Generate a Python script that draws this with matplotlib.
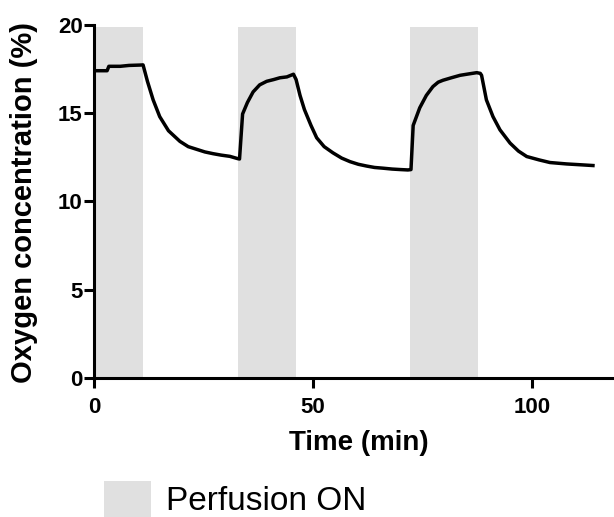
import matplotlib
matplotlib.use("Agg")
import matplotlib.pyplot as plt
from matplotlib.patches import Patch

# tempo (min) e concentracao de O2 (%)
tempo = [0, 3.0, 3.4, 6, 8, 10.5, 11.2, 12.2, 13.5, 15.0, 17, 19.6, 21.5, 23.4,
         25.3, 27.2, 29, 31, 32.8, 33.2, 33.9, 35, 36.3, 37.8, 39.4, 41, 42.4,
         44, 45.5, 46.1, 47.0, 48, 49.5, 50.8, 52.5, 54.5, 56.5, 58.4, 60.3,
         62.2, 64, 65.9, 68, 70, 71.6, 72.3, 72.8, 74.3, 75.8, 77.3, 78.5,
         79.6, 81.5, 83.5, 85.5, 87.3, 88.1, 88.4, 89.5, 91, 92.6, 94.9, 96.8,
         98.7, 101.5, 104, 107.8, 110.5, 113.8]
oxigenio = [17.4, 17.4, 17.65, 17.65, 17.7, 17.72, 17.73, 16.8, 15.75, 14.8,
            14.0, 13.4, 13.1, 12.95, 12.8, 12.7, 12.62, 12.55, 12.42, 12.4,
            14.95, 15.6, 16.2, 16.6, 16.8, 16.9, 17.0, 17.05, 17.2, 16.9, 16.0,
            15.2, 14.3, 13.6, 13.1, 12.75, 12.45, 12.25, 12.1, 12.0, 11.92,
            11.88, 11.83, 11.8, 11.78, 11.8, 14.3, 15.3, 16.0, 16.5, 16.75,
            16.86, 17.0, 17.14, 17.22, 17.29, 17.25, 17.14, 15.75, 14.8, 14.05,
            13.3, 12.85, 12.54, 12.35, 12.2, 12.12, 12.08, 12.03]

# periodos com perfusao ligada
perf_inicio = [0, 32.9, 72.1]
perf_fim = [11.2, 46.0, 87.5]
perf_topo = 19.9

cinza = "#e0e0e0"
fonte = ["Liberation Sans", "DejaVu Sans"]

fig = plt.figure(figsize=(6.14, 5.17), dpi=100)
ax = fig.add_axes([0.153, 0.269, 0.847, 0.683])

for a, b in zip(perf_inicio, perf_fim):
    ax.fill_between([a, b], 0, perf_topo, color=cinza, lw=0, zorder=1)

ax.plot(tempo, oxigenio, color="black", lw=2.5, zorder=3)

ax.set_xlim(0, 118.6)
ax.set_ylim(0, 20)
ax.set_xticks([0, 50, 100])
ax.set_yticks([0, 5, 10, 15, 20])

for s in ["top", "right"]:
    ax.spines[s].set_visible(False)
for s in ["left", "bottom"]:
    ax.spines[s].set_linewidth(2.2)
    ax.spines[s].set_zorder(4)
ax.tick_params(width=2.2, length=7, labelsize=16)
ax.tick_params(axis="y", pad=1)
ax.tick_params(axis="x", pad=6.5)
for lab in ax.get_xticklabels() + ax.get_yticklabels():
    lab.set_family(fonte)
    lab.set_fontweight("bold")

ax.set_xlabel("Time (min)", fontsize=20, fontweight="bold", family=fonte)
ax.set_ylabel("Oxygen concentration (%)", fontsize=21, fontweight="bold", family=fonte)
ax.xaxis.set_label_coords(0.51, -0.147)
ax.yaxis.set_label_coords(-0.108, 0.497)

fig.legend(handles=[Patch(facecolor=cinza, edgecolor="none")], labels=["Perfusion ON"],
           loc="center left", bbox_to_anchor=(0.169, 0.035), frameon=False,
           prop={"family": fonte, "size": 24},
           handlelength=1.42, handleheight=1.3, handletextpad=0.45, borderpad=0,
           borderaxespad=0)

fig.savefig("out.png", dpi=100)
